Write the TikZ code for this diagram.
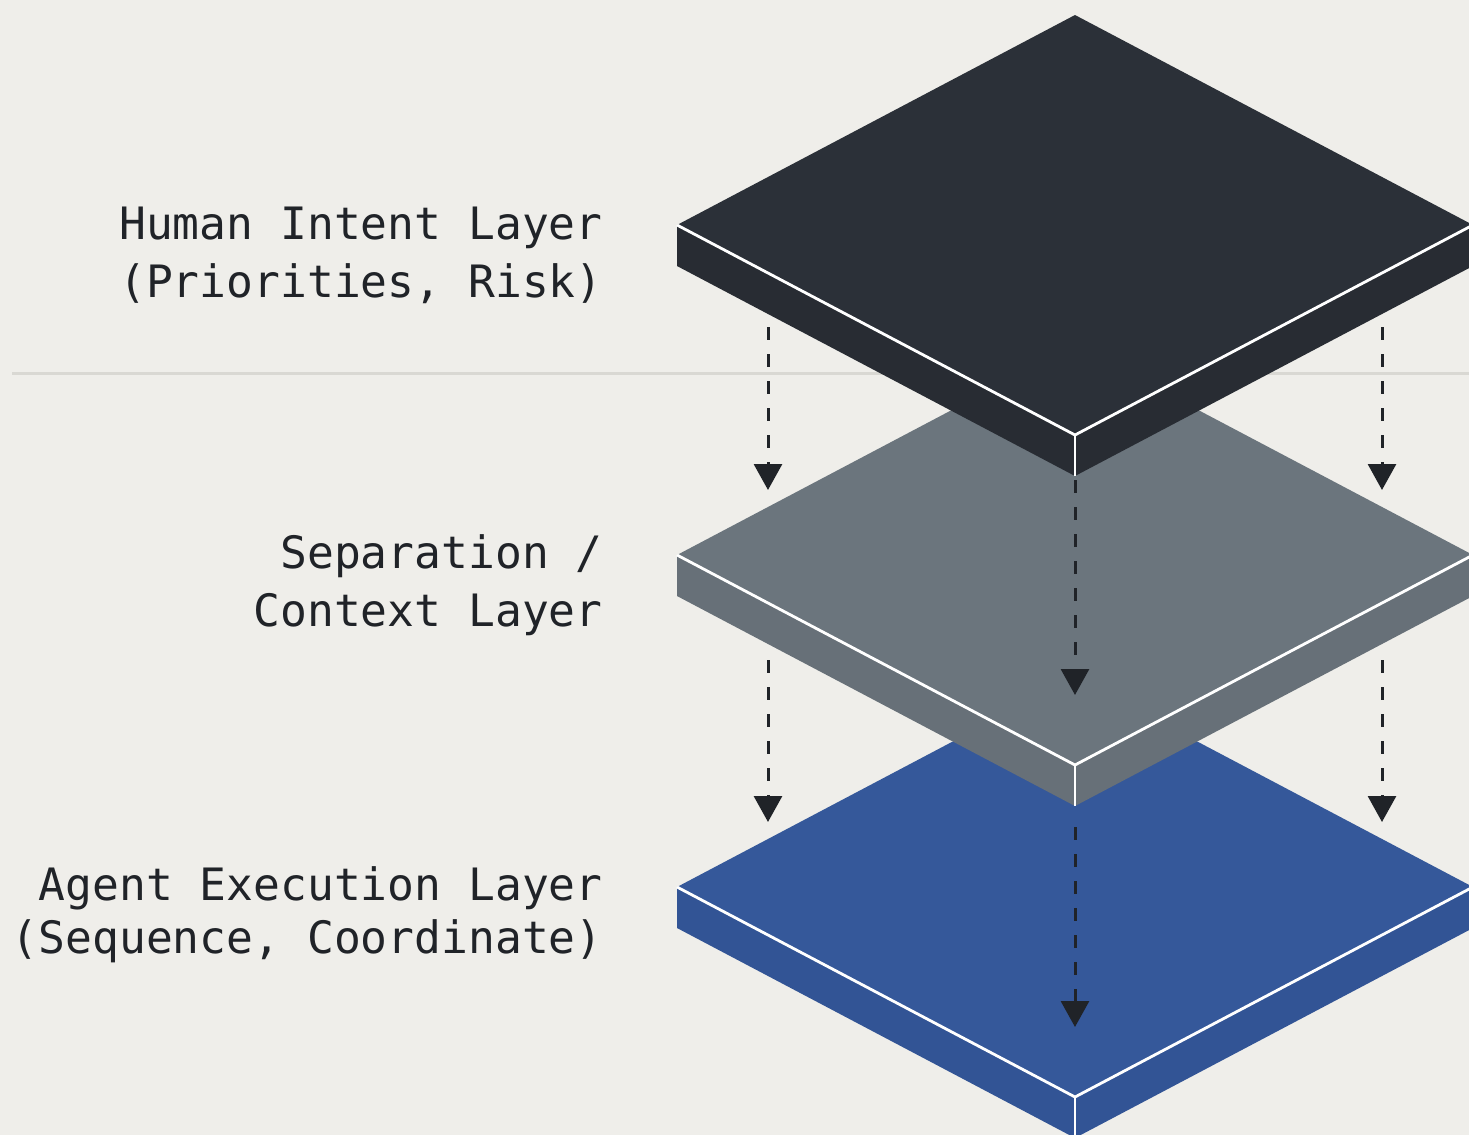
\documentclass[tikz,border=0pt]{standalone}
\usepackage{fontspec}
\newfontfamily\layerfont{DejaVu Sans Mono}
\usepackage{tikz}
\usetikzlibrary{arrows.meta}
\definecolor{paper}{HTML}{EFEEEA}
\definecolor{ink}{HTML}{202328}
\definecolor{intent}{HTML}{2B3038}
\definecolor{intentside}{HTML}{282C33}
\definecolor{context}{HTML}{6B757D}
\definecolor{contextside}{HTML}{677078}
\definecolor{agent}{HTML}{35589A}
\definecolor{agentside}{HTML}{325495}
\definecolor{rulegray}{HTML}{D9D8D3}

% #1 = y of the left corner, #2 = top colour, #3 = side colour
\newcommand{\layerslab}[3]{%
\fill[#3] (677,#1) -- (677,#1+41) -- (1075,#1+251) -- (1473,#1+41) -- (1473,#1) -- (1075,#1+210) -- cycle;
\fill[#2] (677,#1) -- (1075,#1-210) -- (1473,#1) -- (1075,#1+210) -- cycle;
\draw[slab edge] (677,#1) -- (1075,#1+210) -- (1473,#1);
\draw[slab edge] (1075,#1+210) -- (1075,#1+251);
}

\tikzset{
  slab edge/.style={white, line width=1.4pt, line join=round},
  flow/.style={->, ink, line width=1.5pt, dash pattern=on 6.5pt off 7pt},
  layer label/.style={anchor=base east, inner sep=0pt, text=ink, font=\layerfont\fontsize{22.3}{28}\selectfont}
}

\begin{document}
\begin{tikzpicture}[line cap=butt,>={Triangle[width=14pt,length=13pt]},x=0.5pt,y=-0.5pt]
\fill[paper] (0,0) rectangle (1469,1135);
\useasboundingbox (0,0) rectangle (1469,1135);
\clip (0,0) rectangle (1469,1135);
\coordinate (hl0) at (12,373);
\coordinate (hl1) at (1469,373);
\draw [rulegray, line width=1.5pt] (hl0) -- (hl1);
\layerslab{887}{agent}{agentside}
\layerslab{555}{context}{contextside}
\layerslab{225}{intent}{intentside}
\coordinate (upL0) at (768,327);
\coordinate (upL1) at (768,490);
\coordinate (upR0) at (1382,327);
\coordinate (upR1) at (1382,490);
\coordinate (upC0) at (1075,480);
\coordinate (upC1) at (1075,695);
\coordinate (loL0) at (768,660);
\coordinate (loL1) at (768,822);
\coordinate (loR0) at (1382,660);
\coordinate (loR1) at (1382,822);
\coordinate (loC0) at (1075,827);
\coordinate (loC1) at (1075,1027);
\draw [flow] (upL0) -- (upL1);
\draw [flow] (upR0) -- (upR1);
\draw [flow] (upC0) -- (upC1);
\draw [flow] (loL0) -- (loL1);
\draw [flow] (loR0) -- (loR1);
\draw [flow] (loC0) -- (loC1);
\node [layer label] (intent1) at (603,239) {Human Intent Layer};
\node [layer label] (intent2) at (603,297) {(Priorities, Risk)};
\node [layer label] (context1) at (603,568) {Separation /};
\node [layer label] (context2) at (603,626) {Context Layer};
\node [layer label] (agent1) at (603,900) {Agent Execution Layer};
\node [layer label] (agent2) at (603,953) {(Sequence, Coordinate)};
\end{tikzpicture}
\end{document}
